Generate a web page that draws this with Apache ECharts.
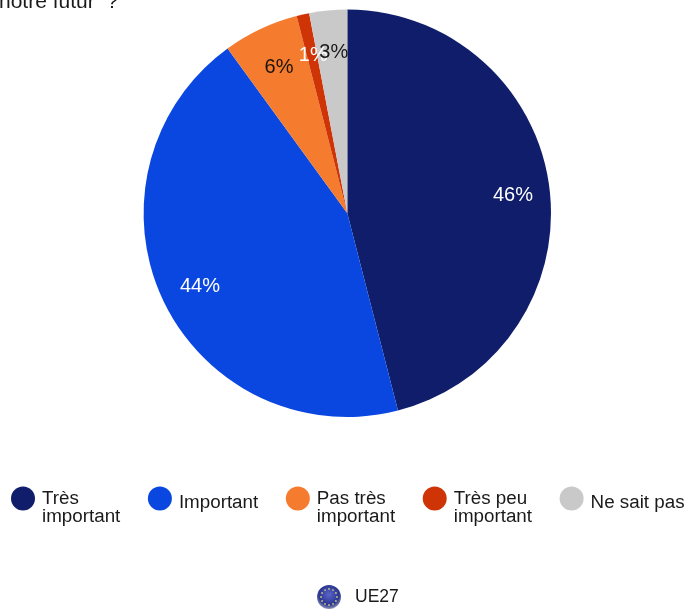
<!DOCTYPE html>
<html><head><meta charset="utf-8">
<style>html,body{margin:0;padding:0;background:#fff}#c{width:687px;height:609px}</style>
<script src="https://cdn.jsdelivr.net/npm/echarts@6/dist/echarts.min.js"></script>
</head><body><div id="c"></div>
<script>
const categories = ['Très\nimportant','Important','Pas très\nimportant','Très peu\nimportant','Ne sait pas'];
const values = [46,44,6,1,3];
const colors = ['#0F1D6B','#0A47E0','#F57B2E','#CF3406','#C9C9C9'];
const labelColors = ['#fff','#fff','#1a1408','#fff','#1a1a1a'];
const questionTail = 'notre futur  ?';
const geoLabel = 'UE27';
const FONT = '"Liberation Sans", Arial, sans-serif';
const CX = 347.3, CY = 213.3, R = 203.7, LABEL_R = 165;
const total = values.reduce((a,b)=>a+b,0);
const chart = echarts.init(document.getElementById('c'), null, {renderer:'canvas'});
const stars = [];
for (let i=0;i<12;i++){
  const a = i/12*2*Math.PI;
  stars.push({type:'circle',shape:{cx:329+8*Math.cos(a),cy:597+8*Math.sin(a),r:0.9},style:{fill:'#C9C98A'}});
}
chart.setOption({
  animation:false,
  backgroundColor:'#fff',
  title:{text:questionTail,left:-1,top:-8,padding:0,textStyle:{fontFamily:FONT,fontSize:21,fontWeight:'normal',color:'#1a1a1a'}},
  legend:{
    left:11,top:471,width:760,padding:0,itemWidth:24,itemHeight:24,itemGap:27.6,icon:'circle',selectedMode:false,
    formatter:n=>{
      const parts=n.split('\n');
      return parts.length>1 ? '{s| }\n'+parts.map(p=>'{t|'+p+'}').join('\n') : '{p|'+n+'}';
    },
    textStyle:{fontFamily:FONT,fontSize:18.8,lineHeight:18,color:'#1a1a1a',rich:{
      s:{fontFamily:FONT,fontSize:18.8,lineHeight:18,color:'#1a1a1a'},
      t:{fontFamily:FONT,fontSize:18.8,lineHeight:18,color:'#1a1a1a',padding:[0,0,0,2]},
      p:{fontFamily:FONT,fontSize:18.8,lineHeight:18,color:'#1a1a1a',padding:[8,0,0,2]}
    }},
    data:categories
  },
  series:[{
    type:'pie',center:[CX,CY],radius:R,startAngle:90,clockwise:true,
    itemStyle:{borderWidth:0},
    label:{show:true,position:'inside',formatter:'{c}%',fontFamily:FONT,fontSize:20},
    labelLine:{show:false},
    labelLayout:p=>{
      const before=values.slice(0,p.dataIndex).reduce((a,b)=>a+b,0);
      const t=(before+values[p.dataIndex]/2)/total*2*Math.PI;
      return {x:CX+2+LABEL_R*Math.sin(t),y:CY+3-LABEL_R*Math.cos(t),align:'center',verticalAlign:'middle'};
    },
    emphasis:{disabled:true},
    data:categories.map((n,i)=>({name:n,value:values[i],itemStyle:{color:colors[i]},label:{color:labelColors[i]}}))
  }],
  graphic:[
    {type:'group',children:[
      {type:'circle',shape:{cx:329,cy:597,r:12},style:{fill:new echarts.graphic.RadialGradient(0.5,0.4,0.6,[{offset:0,color:'#5A66C8'},{offset:0.7,color:'#2B3590'},{offset:1,color:'#8E93B8'}])}},
      ...stars
    ]},
    {type:'text',left:355,top:588,style:{text:geoLabel,font:'17.5px '+FONT,fill:'#1a1a1a'}}
  ]
});
</script></body></html>
